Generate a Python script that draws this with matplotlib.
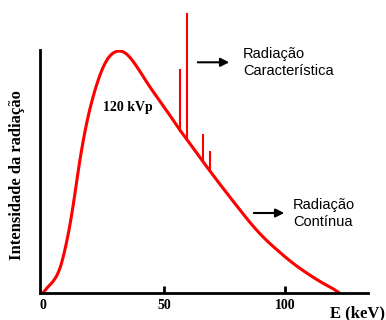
"""X-ray spectrum at 120 kVp: continuous (bremsstrahlung) curve plus characteristic lines"""

import matplotlib
matplotlib.use('Agg')
import matplotlib.pyplot as plt
from matplotlib.path import Path
from matplotlib.patches import PathPatch

# continuous spectrum (E in keV, intensity in arbitrary units)
energy = [0, 2.1, 4.8, 6.9, 8.3, 9.6, 11.0, 12.4, 13.8, 15.2, 16.7, 18.0, 19.4, 21.5,
          23.6, 25.6, 27.7, 29.8, 31.8, 33.9, 36.0, 38.0, 40.1, 43.5, 47.0, 50.4, 53.8,
          56.6, 59.6, 62.9, 66.2, 69.0, 73.1, 77.3, 81.4, 84.5, 87.6, 90.7, 93.8, 97.0,
          100.0, 103.1, 106.2, 109.3, 112.4, 115.2, 117.9, 120.0, 122.5]
intensity = [0, 2.6, 5.3, 9.5, 14.4, 20.0, 27.0, 35.3, 44.8, 54.3, 63.0, 69.6, 75.8, 83.6,
             89.9, 94.6, 97.8, 99.3, 99.7, 99.0, 97.0, 94.3, 91.2, 85.8, 80.8, 76.0, 71.2,
             67.0, 63.0, 58.5, 54.0, 50.2, 44.8, 39.4, 34.2, 30.3, 26.6, 23.3, 20.3, 17.5,
             14.9, 12.4, 10.1, 8.0, 6.0, 4.3, 2.8, 1.7, 0]

# characteristic lines: energy, base (on the curve) and top
line_energy = [56.6, 59.6, 66.2, 69.0]
line_base = [66.4, 62.5, 53.4, 49.6]
line_top = [92.2, 115.4, 65.4, 58.4]

x_ticks = [0, 50, 100]
x_tick_labels = ['0', '50', '100']

SERIF = 'Liberation Serif'
SANS = 'Liberation Sans'


def smooth_path(xs, ys):
    """Quadratic bezier path using the read points as control points"""
    verts = [(xs[0], ys[0])]
    codes = [Path.MOVETO]
    for i in range(1, len(xs) - 1):
        verts.append((xs[i], ys[i]))
        verts.append(((xs[i] + xs[i + 1]) / 2, (ys[i] + ys[i + 1]) / 2))
        codes += [Path.CURVE3, Path.CURVE3]
    verts.append((xs[-1], ys[-1]))
    codes.append(Path.LINETO)
    return Path(verts, codes)


fig = plt.figure(figsize=(3.86, 3.2), dpi=100)
ax = fig.add_axes([40 / 386, 27 / 320, 328 / 386, 243 / 320])

ax.add_patch(PathPatch(smooth_path(energy, intensity), facecolor='none',
                       edgecolor='#ff0000', lw=2.2, capstyle='round', joinstyle='round'))
ax.vlines(line_energy, line_base, line_top, color='#ff0000', lw=1.5, clip_on=False)

ax.set_xlim(-1.2, 134.3)
ax.set_ylim(0, 100)

# only left and bottom spines, thick black
for side in ['top', 'right']:
    ax.spines[side].set_visible(False)
for side in ['left', 'bottom']:
    ax.spines[side].set_linewidth(2)
    ax.spines[side].set_color('black')

ax.set_yticks([])
ax.set_xticks(x_ticks)
ax.set_xticklabels(x_tick_labels, fontfamily=SERIF, fontweight='bold', fontsize=10)
ax.tick_params(axis='x', direction='in', length=5, width=2, pad=4)
ax.xaxis.get_major_ticks()[0].tick1line.set_visible(False)

# labels
fig.text(17 / 386, 0.4516, 'Intensidade da radiação', rotation=90, ha='center',
         va='center', fontfamily=SERIF, fontweight='bold', fontsize=12)
fig.text(330 / 386, 7 / 320, 'E (keV)', ha='left', va='center',
         fontfamily=SERIF, fontweight='bold', fontsize=12)
fig.text(103 / 386, 0.6625, '120 kVp', ha='left', va='center',
         fontfamily=SERIF, fontweight='bold', fontsize=10)

fig.text(243 / 386, 0.805, 'Radiação\nCaracterística', ha='left', va='center',
         fontfamily=SANS, fontsize=10.5, linespacing=1.3)
fig.text(293 / 386, 0.333, 'Radiação\nContínua', ha='left', va='center',
         fontfamily=SANS, fontsize=10.5, linespacing=1.3)

arrow = dict(arrowstyle='-|>,head_length=0.5,head_width=0.25', color='black', lw=1.5)
ax.annotate('', xy=(232 / 386, 1 - 62.3 / 320), xytext=(195 / 386, 1 - 62.3 / 320),
            xycoords='figure fraction', textcoords='figure fraction', arrowprops=arrow)
ax.annotate('', xy=(287 / 386, 1 - 213 / 320), xytext=(251 / 386, 1 - 213 / 320),
            xycoords='figure fraction', textcoords='figure fraction', arrowprops=arrow)

fig.savefig('out.png', dpi=100)
